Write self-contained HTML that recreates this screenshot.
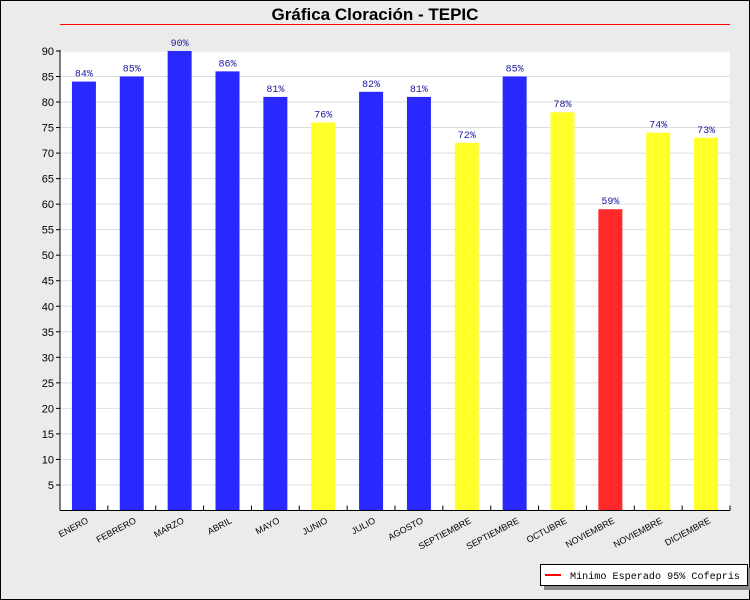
<!DOCTYPE html>
<html><head><meta charset="utf-8"><style>
body{margin:0;background:#fff}
svg{display:block}
</style></head><body>
<svg id="chart" width="750" height="600" xmlns="http://www.w3.org/2000/svg" font-family="Liberation Sans, sans-serif">
<rect x="0.5" y="0.5" width="749" height="599" fill="#ebebeb" stroke="#000"/>
<text x="375" y="20" text-anchor="middle" font-size="17" font-weight="bold">Gráfica Cloración - TEPIC</text>
<rect x="60" y="50" width="670" height="460" fill="#fff"/>
<g id="grid"></g><g id="bars"></g><g id="axes"></g>
<g>
<rect x="544" y="568" width="206" height="22" fill="#888"/>
<rect x="540.5" y="564.5" width="207" height="21" fill="#fff" stroke="#000"/>
<line x1="545" y1="575" x2="561" y2="575" stroke="#f00" stroke-width="2"/>
<text x="570" y="579" font-family="Liberation Mono, monospace" font-size="10" textLength="170" lengthAdjust="spacingAndGlyphs">Minimo Esperado 95% Cofepris</text>
</g>
</svg>
<script>
const categories=["ENERO","FEBRERO","MARZO","ABRIL","MAYO","JUNIO","JULIO","AGOSTO","SEPTIEMBRE","SEPTIEMBRE","OCTUBRE","NOVIEMBRE","NOVIEMBRE","DICIEMBRE"];
const values=[84,85,90,86,81,76,82,81,72,85,78,59,74,73];
const yTicks=[5,10,15,20,25,30,35,40,45,50,55,60,65,70,75,80,85,90];
const minimo=95;
const NS="http://www.w3.org/2000/svg";
const X0=60,X1=730,Y0=510.5,PX=5.106;
const bw=(X1-X0)/categories.length;
const y=v=>Y0-v*PX;
const xc=i=>X0+bw*(i+0.5);
function mk(tag,attrs,parent,txt){const e=document.createElementNS(NS,tag);for(const k in attrs)e.setAttribute(k,attrs[k]);if(txt!==undefined)e.textContent=txt;parent.appendChild(e);return e;}
const grid=document.getElementById('grid'),bars=document.getElementById('bars'),axes=document.getElementById('axes');
yTicks.forEach(t=>{
 const l=mk('line',{x1:X0,x2:X1,y1:y(t),y2:y(t),stroke:'#ddd'},grid);
 
 
 mk('line',{x1:X0-4,x2:X0,y1:y(t),y2:y(t),stroke:'#000'},axes);
 const tx=mk('text',{x:X0-6,y:y(t)+4,'text-anchor':'end','font-size':11},axes,t);
 
 
});
values.forEach((v,i)=>{
 const col=v>=80?'#2929ff':(v>=60?'#ffff29':'#ff2929');
 const r=mk('rect',{x:xc(i)-12,y:y(v),width:24,height:Y0-y(v),fill:col},bars);
 
 
 const t=mk('text',{x:xc(i),y:y(v)-5,'text-anchor':'middle','font-size':10,fill:'#1a1aa0','font-family':'Liberation Mono, monospace'},bars,v+'%');
 
 
 const c=mk('text',{x:0,y:0,'text-anchor':'end','font-size':9,transform:`translate(${xc(i)+5},${Y0+12}) rotate(-28)`},axes,categories[i]);
 
 
 if(i>0)mk('line',{x1:X0+bw*i,x2:X0+bw*i,y1:Y0-5,y2:Y0,stroke:'#000'},axes);
});
const ml=mk('line',{x1:X0,x2:X1,y1:Math.floor(y(minimo))-0.5,y2:Math.floor(y(minimo))-0.5,stroke:'#f00','stroke-width':1},axes);


mk('line',{x1:X0,x2:X0,y1:50,y2:Y0,stroke:'#000'},axes);
mk('line',{x1:X0,x2:X1,y1:Y0,y2:Y0,stroke:'#000'},axes);
mk('line',{x1:X1,x2:X1,y1:Y0-5,y2:Y0,stroke:'#000'},axes);
</script>
</body></html>
